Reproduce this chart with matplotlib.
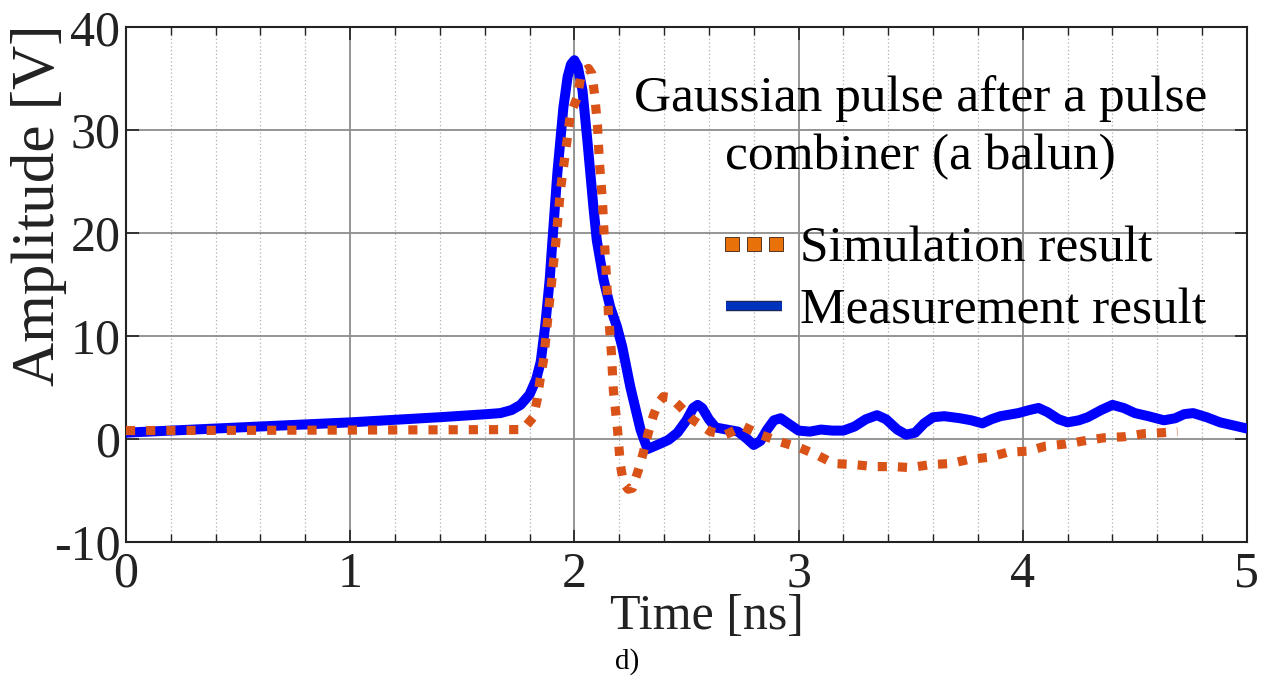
import matplotlib
matplotlib.use("Agg")
import matplotlib.pyplot as plt
import matplotlib.patheffects as pe
from matplotlib.lines import Line2D
from matplotlib.legend_handler import HandlerLine2D
from matplotlib.ticker import MultipleLocator

# measured pulse (blue, solid)
t_meas = [0.00, 0.50, 1.00, 1.40, 1.61, 1.67, 1.72, 1.76, 1.80, 1.83, 1.85, 1.87, 1.89,
          1.90, 1.924, 1.951, 1.97, 1.985, 2.00, 2.015, 2.036, 2.058, 2.085, 2.10, 2.13,
          2.16, 2.19, 2.214, 2.25, 2.295, 2.326, 2.38, 2.42, 2.46, 2.50, 2.53, 2.55, 2.57,
          2.60, 2.63, 2.68, 2.73, 2.77, 2.80, 2.83, 2.86, 2.89, 2.92, 2.96, 3.00, 3.05,
          3.10, 3.15, 3.20, 3.25, 3.30, 3.35, 3.39, 3.44, 3.48, 3.52, 3.56, 3.60, 3.65,
          3.72, 3.77, 3.82, 3.86, 3.90, 3.98, 4.03, 4.07, 4.11, 4.16, 4.20, 4.25, 4.29,
          4.35, 4.40, 4.45, 4.50, 4.56, 4.63, 4.68, 4.72, 4.76, 4.82, 4.88, 4.94, 5.00]
v_meas = [0.6, 1.1, 1.6, 2.1, 2.4, 2.5, 2.8, 3.3, 4.3, 5.8, 7.5, 11.0, 15.5,
          18.6, 25.8, 32.2, 35.2, 36.4, 36.8, 36.2, 33.9, 29.0, 22.5, 19.3, 15.5,
          12.8, 10.9, 8.9, 5.0, 0.9, -1.0, -0.5, -0.1, 0.6, 1.8, 3.0, 3.3, 3.0,
          1.9, 1.1, 0.9, 0.7, 0.0, -0.6, -0.2, 0.9, 1.8, 2.0, 1.4, 0.8, 0.7,
          0.9, 0.8, 0.8, 1.2, 1.9, 2.3, 1.9, 0.9, 0.4, 0.6, 1.5, 2.1, 2.2,
          2.0, 1.8, 1.5, 1.9, 2.2, 2.5, 2.8, 3.0, 2.6, 1.9, 1.6, 1.8, 2.1,
          2.8, 3.3, 3.0, 2.5, 2.2, 1.8, 2.0, 2.4, 2.5, 2.1, 1.6, 1.3, 1.0]

# simulated pulse (orange, dotted)
t_sim = [0.00, 1.00, 1.77, 1.817, 1.835, 1.848, 1.862, 1.871, 1.879, 1.888, 1.897, 1.906,
         1.915, 1.938, 1.96, 1.982, 2.013, 2.027, 2.045, 2.063, 2.078, 2.09, 2.103, 2.112,
         2.125, 2.134, 2.143, 2.152, 2.165, 2.174, 2.192, 2.205, 2.219, 2.24, 2.259, 2.286,
         2.308, 2.33, 2.353, 2.375, 2.397, 2.43, 2.473, 2.531, 2.607, 2.674, 2.754, 2.83,
         2.92, 3.009, 3.085, 3.156, 3.246, 3.335, 3.424, 3.50, 3.589, 3.679, 3.759, 3.848,
         3.933, 4.022, 4.103, 4.192, 4.272, 4.362, 4.45, 4.54, 4.625, 4.69]
v_sim = [0.8, 0.85, 0.9, 2.1, 3.9, 5.9, 7.6, 9.4, 11.2, 13.1, 14.9, 16.9,
         18.6, 24.2, 27.8, 31.5, 33.2, 35.0, 35.8, 36.0, 35.5, 33.5, 30.5, 26.8,
         23.2, 19.3, 15.7, 12.2, 8.4, 4.7, 1.0, -2.5, -4.3, -4.9, -4.8, -3.0,
         -1.3, 0.6, 2.3, 3.5, 4.1, 4.0, 3.1, 1.8, 0.7, 0.4, 1.2, 0.4,
         -0.3, -0.9, -1.6, -2.4, -2.5, -2.7, -2.7, -2.8, -2.5, -2.4, -2.0, -1.8,
         -1.3, -1.2, -0.7, -0.5, -0.2, 0.1, 0.2, 0.5, 0.6, 0.7]

plt.rcParams['font.family'] = ['Liberation Serif', 'DejaVu Serif']
plt.rcParams['axes.unicode_minus'] = False

fig = plt.figure(figsize=(12.71, 6.79), dpi=100)
ax = fig.add_axes([0.0991, 0.2022, 0.8820, 0.7576])

ax.plot(t_meas, v_meas, color='#0000FF', lw=7.2, solid_joinstyle='round',
        solid_capstyle='round', zorder=3)
ax.plot(t_sim, v_sim, color='#D95319', lw=6.6, linestyle=(0, (1, 1.2)),
        dash_capstyle='butt', zorder=4)

ax.set_xlim(0, 5)
ax.set_ylim(-10, 40)
ax.xaxis.set_major_locator(MultipleLocator(1))
ax.xaxis.set_minor_locator(MultipleLocator(0.2))
ax.yaxis.set_major_locator(MultipleLocator(10))

ax.grid(which='major', color='#8c8c8c', lw=1.3, ls='-')
ax.grid(which='minor', axis='x', color='#b0b0b0', lw=0.9, ls=(0, (1, 2)))
ax.set_axisbelow(True)

ax.tick_params(which='both', direction='in', top=True, right=True,
               labelsize=36, colors='#222222')
ax.tick_params(axis='x', pad=7)
ax.tick_params(axis='y', pad=4)
ax.tick_params(which='major', length=9, width=1.2)
ax.tick_params(which='minor', length=6, width=1.0)
for s in ax.spines.values():
    s.set_color('#222222')
    s.set_linewidth(1.5)

ax.set_xlabel('Time [ns]', fontsize=36, color='#222222')
ax.xaxis.set_label_coords(0.518, -0.10)
ax.set_ylabel('Amplitude [V]', fontsize=44, color='#222222')
ax.yaxis.set_label_coords(-0.053, 0.655)

ax.text(0.709, 0.805, 'Gaussian pulse after a pulse\ncombiner (a balun)',
        transform=ax.transAxes, ha='center', va='center', fontsize=37,
        linespacing=1.35)

h_sim = Line2D([], [], ls='none', marker='s', markersize=9.4,
               markerfacecolor='#E8710A', markeredgecolor='#553322', markeredgewidth=0.7)
h_meas = Line2D([], [], color='#0033BB', lw=6, solid_capstyle='butt',
                path_effects=[pe.Stroke(linewidth=7.5, foreground='#222244'), pe.Normal()])
leg = ax.legend([h_sim, h_meas], ['Simulation result', 'Measurement result'],
                loc='upper left', bbox_to_anchor=(0.535, 0.614), frameon=False,
                fontsize=37, handlelength=1.1, handletextpad=0.35,
                labelspacing=0.29, borderaxespad=0, borderpad=0,
                handler_map={h_sim: HandlerLine2D(numpoints=3, marker_pad=0.13)})

fig.text(627 / 1271, 1 - 662 / 679, 'd)', ha='center', va='center', fontsize=21)

fig.savefig('out.png', dpi=100)
